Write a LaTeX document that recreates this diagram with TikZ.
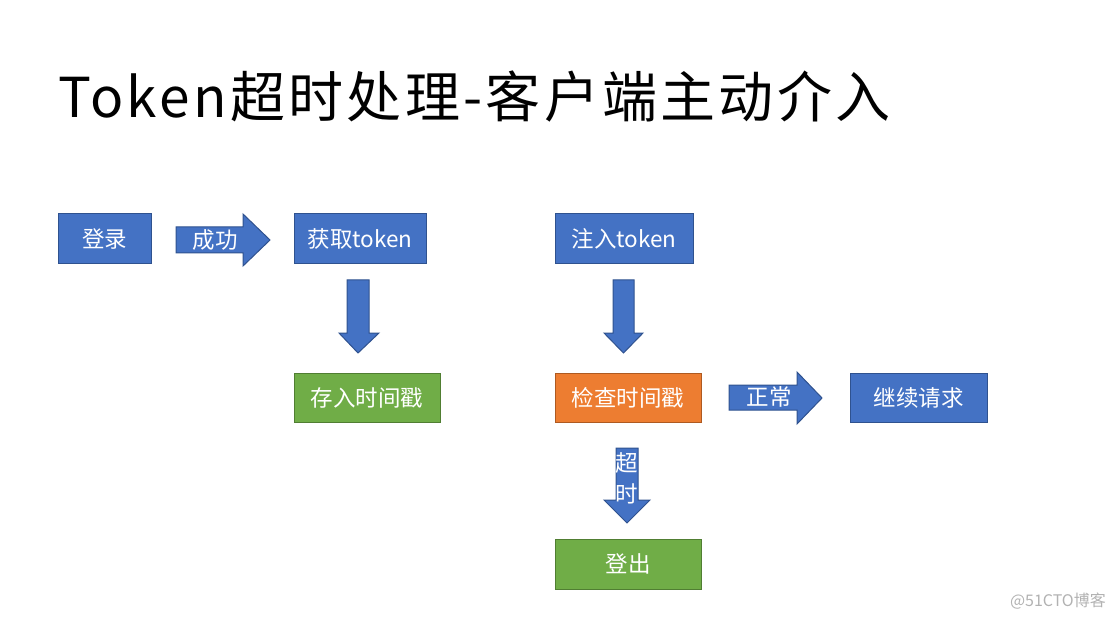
\documentclass[tikz,border=0pt]{standalone}
\usepackage{fontspec}
\setmainfont{Noto Sans CJK SC}
\newfontfamily\titlefont[LetterSpace=6]{Noto Sans CJK SC}
\begin{document}
\begin{tikzpicture}[x=1pt,y=-1pt,
  boxb/.style={draw=blueb,fill=bluef,line width=1pt,text=white,font=\fontsize{22.5}{26}\selectfont,inner sep=0pt},
  boxg/.style={boxb,draw=greenb,fill=greenf},
  boxo/.style={boxb,draw=orangeb,fill=orangef},
  arr/.style={draw=blueb,fill=bluef,line width=1pt},
  lab/.style={text=white,font=\fontsize{22.5}{26}\selectfont,inner sep=0pt}]
\definecolor{bluef}{HTML}{4472C4}
\definecolor{blueb}{HTML}{2F528F}
\definecolor{greenf}{HTML}{70AD47}
\definecolor{greenb}{HTML}{507E32}
\definecolor{orangef}{HTML}{ED7D31}
\definecolor{orangeb}{HTML}{AE5A21}
\useasboundingbox (0,0) rectangle (1116,620);
% title
\node[anchor=base west,inner sep=0pt,font=\titlefont\fontsize{55}{62}\selectfont] (title) at (58,118) {Token超时处理-客户端主动介入};
% boxes
\node[boxb,minimum width=93pt,minimum height=50pt] (login) at (104.5,239) {登录};
\node[boxb,minimum width=132pt,minimum height=50pt] (get) at (360,239) {获取token};
\node[boxb,minimum width=138pt,minimum height=50pt] (inject) at (624,239) {注入token};
\node[boxg,minimum width=146pt,minimum height=49pt] (store) at (367,397.5) {存入时间戳};
\node[boxo,minimum width=146pt,minimum height=49pt] (check) at (628,397.5) {检查时间戳};
\node[boxb,minimum width=137pt,minimum height=49pt] (cont) at (918.5,397.5) {继续请求};
\node[boxg,minimum width=146pt,minimum height=50pt] (logout) at (628,564) {登出};
% arrow: 成功
\draw[arr] (176,227) -- (243,227) -- (243,214) -- (270,240) -- (243,266) -- (243,253) -- (176,253) -- cycle;
\node[lab] (succ) at (215,240) {成功};
% arrow: 正常
\draw[arr] (729,385) -- (797,385) -- (797,372) -- (822,398) -- (797,424) -- (797,410) -- (729,410) -- cycle;
\node[lab] (norm) at (769,397) {正常};
% down arrow 1
\draw[arr] (347,280) -- (369,280) -- (369,333) -- (379,333) -- (358,353) -- (339,333) -- (347,333) -- cycle;
% down arrow 2
\draw[arr] (613,280) -- (634,280) -- (634,333) -- (643,333) -- (623.5,353) -- (604,333) -- (613,333) -- cycle;
% timeout arrow
\draw[arr] (616,448) -- (638,448) -- (638,500) -- (650,500) -- (627,523) -- (604,500) -- (616,500) -- cycle;
\node[lab,align=center,font=\fontsize{22.5}{31}\selectfont] (tout) at (627,478) {超\\时};
% watermark
\node[anchor=east,inner sep=0pt,text=black!30,font=\fontsize{16}{18}\selectfont] (wm) at (1106,601) {@51CTO博客};
\end{tikzpicture}
\end{document}
